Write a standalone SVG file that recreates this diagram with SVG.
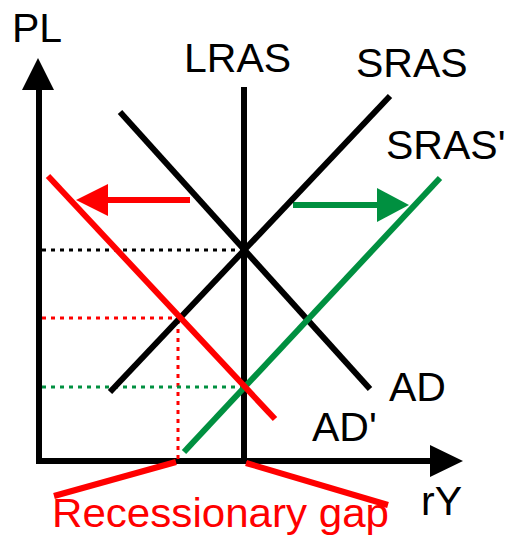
<svg xmlns="http://www.w3.org/2000/svg" width="508" height="538" viewBox="0 0 508 538">
<style>
text{font-family:"Liberation Sans",Arial,sans-serif;font-size:41px;fill:#000}
.red{fill:#ff0000}
.ln{fill:none;stroke-width:6;stroke-linecap:butt}
.k{stroke:#000}
.r{stroke:#ff0000}
.g{stroke:#009040}
.dot{fill:none;stroke-width:3;stroke-dasharray:4 5}
</style>
<rect width="508" height="538" fill="#fff"/>
<g id="axes">
<line class="ln k" x1="39" y1="88" x2="39" y2="464"/>
<polygon points="38,58 22,90 54,90" fill="#000"/>
<line class="ln k" x1="36" y1="461" x2="432" y2="461"/>
<polygon points="463,461 430,445 430,477" fill="#000"/>
<text x="12" y="42">PL</text>
<text x="421" y="515">rY</text>
</g>
<g id="connectors">
<line class="dot k" x1="42" y1="250" x2="242" y2="250"/>
<line class="dot r" x1="42" y1="318" x2="178" y2="318"/>
<line class="dot r" x1="178" y1="320" x2="178" y2="459"/>
<line class="dot g" x1="42" y1="387" x2="242" y2="387"/>
<line class="ln r" x1="190" y1="200" x2="105" y2="200" stroke-width="7"/>
<polygon points="76,200 108,184 108,216" fill="#ff0000"/>
<line class="ln g" x1="293" y1="205" x2="380" y2="205" stroke-width="7"/>
<polygon points="409,205 377,188 377,222" fill="#009040"/>
<line class="ln r" x1="54" y1="496" x2="176" y2="462"/>
<line class="ln r" x1="246" y1="463" x2="388" y2="505"/>
</g>
<g id="LRAS">
<line class="ln k" x1="244" y1="87" x2="244" y2="461"/>
<text x="184" y="72">LRAS</text>
</g>
<g id="SRAS">
<line class="ln k" x1="110" y1="392" x2="390" y2="96"/>
<text x="356" y="77">SRAS</text>
</g>
<g id="AD">
<line class="ln k" x1="120" y1="112" x2="370" y2="389"/>
<text x="389" y="401">AD</text>
</g>
<g id="SRAS2">
<line class="ln g" x1="184" y1="452" x2="440" y2="178"/>
<text x="386" y="159">SRAS'</text>
</g>
<g id="AD2">
<line class="ln r" x1="48" y1="176" x2="275" y2="419"/>
<text x="312" y="441">AD'</text>
</g>
<g id="gap">
<text class="red" x="52" y="527" font-size="43" textLength="337" lengthAdjust="spacingAndGlyphs">Recessionary gap</text>
</g>
</svg>
